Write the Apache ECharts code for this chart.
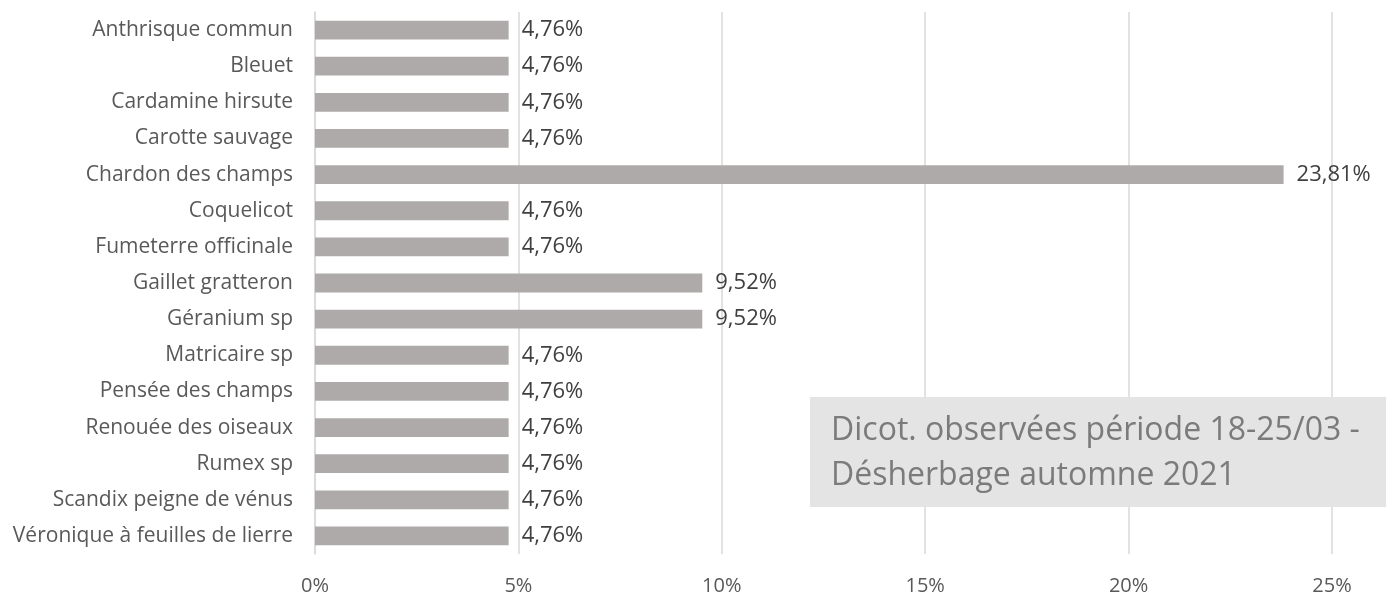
<!DOCTYPE html>
<html>
<head>
<meta charset="utf-8">
<script src="https://cdn.jsdelivr.net/npm/echarts@6/dist/echarts.min.js"></script>
<style>
  html, body { margin: 0; padding: 0; background: #fff; }
  #chart { width: 1386px; height: 597px; }
</style>
</head>
<body>
<div id="chart"></div>
<script>
const categories = [
  'Anthrisque commun',
  'Bleuet',
  'Cardamine hirsute',
  'Carotte sauvage',
  'Chardon des champs',
  'Coquelicot',
  'Fumeterre officinale',
  'Gaillet gratteron',
  'Géranium sp',
  'Matricaire sp',
  'Pensée des champs',
  'Renouée des oiseaux',
  'Rumex sp',
  'Scandix peigne de vénus',
  'Véronique à feuilles de lierre'
];
const shares = [4.76, 4.76, 4.76, 4.76, 23.81, 4.76, 4.76, 9.52, 9.52, 4.76, 4.76, 4.76, 4.76, 4.76, 4.76];
const titleLines = ['Dicot. observées période 18-25/03 -', 'Désherbage automne 2021'];

const font = '"Open Sans", "Liberation Sans", sans-serif';
const chart = echarts.init(document.getElementById('chart'));

const option = {
  animation: false,
  grid: { left: 315, right: 54, top: 12, bottom: 43 },
  xAxis: {
    type: 'value',
    min: 0,
    max: 25,
    interval: 5,
    axisLine: { show: false },
    axisTick: { show: false },
    splitLine: { lineStyle: { color: '#d9d9d9', width: 1.5 } },
    axisLabel: {
      margin: 22,
      fontFamily: font,
      fontSize: 20,
      color: '#595959',
      formatter: v => v + '%'
    }
  },
  yAxis: {
    type: 'category',
    inverse: true,
    data: categories,
    axisLine: { lineStyle: { color: '#d9d9d9', width: 1.5 } },
    axisTick: { length: 7, lineStyle: { color: '#d0d0d0', width: 1.5 } },
    axisLabel: {
      margin: 22,
      fontFamily: font,
      fontSize: 21,
      color: '#595959'
    }
  },
  series: [{
    type: 'bar',
    data: shares,
    barCategoryGap: '48%',
    itemStyle: { color: '#aeaaaa' },
    label: {
      show: true,
      position: 'right',
      distance: 13,
      fontFamily: font,
      fontSize: 22,
      color: '#404040',
      formatter: p => p.value.toFixed(2).replace('.', ',') + '%'
    }
  }],
  graphic: [{
    type: 'group',
    left: 810,
    top: 397,
    z: 100,
    children: [
      { type: 'rect', z: 100, shape: { x: 0, y: 0, width: 576, height: 110 }, style: { fill: '#e4e4e4' } },
      {
        type: 'text',
        z: 101,
        x: 21,
        y: 11,
        style: {
          text: titleLines.join('\n'),
          font: '32px ' + font,
          lineHeight: 45,
          fill: '#7b7b7b'
        }
      }
    ]
  }]
};

chart.setOption(option);
</script>
</body>
</html>
